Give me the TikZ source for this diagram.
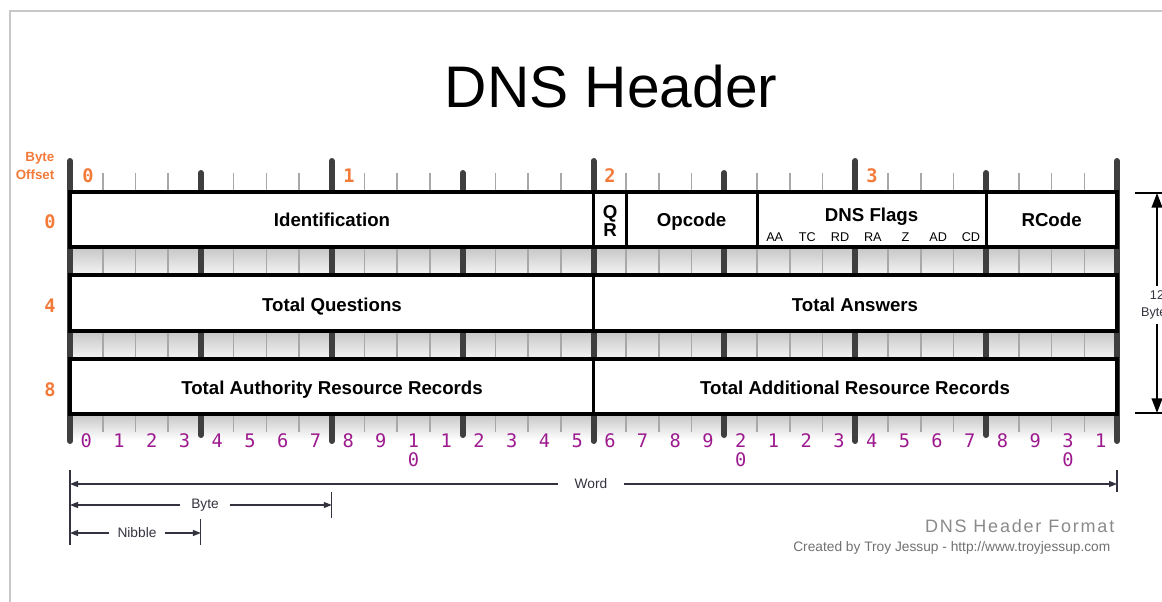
\documentclass[tikz,border=0pt]{standalone}
\usepackage{fontspec}
\setmainfont{Liberation Sans}
\setmonofont{DejaVu Sans Mono}
\usetikzlibrary{arrows.meta}
\definecolor{orange1}{HTML}{F47A3A}
\definecolor{purple1}{HTML}{9C1A8E}
\definecolor{gray1}{HTML}{3F3F3F}
\definecolor{gray2}{HTML}{A8A8A8}
\definecolor{gray3}{HTML}{C8C8C8}
\definecolor{gray4}{HTML}{8A8A8A}
\definecolor{gray5}{HTML}{707070}
\definecolor{gray6}{HTML}{333340}
\def\bw{32.72}

\begin{document}
\begin{tikzpicture}[x=0.75pt, y=-0.75pt, align=center,
  field/.style={draw=black, line width=2.4pt, fill=white},
  lbl/.style={font=\bfseries\fontsize{14}{14}\selectfont},
  flag/.style={font=\fontsize{9.5}{11}\selectfont, anchor=base},
  offs/.style={font=\ttfamily\bfseries\fontsize{14}{16}\selectfont, text=orange1},
  bitno/.style={font=\ttfamily\fontsize{14}{16}\selectfont, text=purple1},
  dimtext/.style={font=\fontsize{10.3}{12}\selectfont, text=gray6, inner xsep=8pt},
  dimline/.style={draw=gray6, line width=0.8pt},
  tickline/.style={draw=gray2, line width=1.2pt},
  bar/.style={draw=gray1, line width=4.5pt, line cap=round}]
\useasboundingbox (0,0) rectangle (1162,602);

% frame
\draw[gray3, line width=1pt] (10,602) -- (10,11) -- (1162,11);

\node (title) at (611,87) {\fontsize{44}{50}\selectfont DNS Header};

% shaded gaps between rows
\shade[top color=gray!45, bottom color=gray!8] (70,247) rectangle (1117,275);
\shade[top color=gray!45, bottom color=gray!8] (70,331) rectangle (1117,359);
\shade[top color=gray!45, bottom color=white] (70,414) rectangle (1117,440);

% bit ticks, nibble and byte bars
\foreach \i in {1,...,31}{
  \pgfmathsetmacro\xx{70+\i*\bw}
  \draw[tickline] (\xx,173) -- (\xx,432);
}
\foreach \i in {4,12,20,28}{
  \pgfmathsetmacro\xx{70+\i*\bw}
  \draw[bar] (\xx,173) -- (\xx,435);
}
\foreach \i in {0,8,16,24,32}{
  \pgfmathsetmacro\xx{70+\i*\bw}
  \draw[bar] (\xx,161) -- (\xx,441);
}

% row 0
\filldraw[field] (70,192) rectangle (593.5,247);
\filldraw[field] (593.5,192) rectangle (626.2,247);
\filldraw[field] (626.2,192) rectangle (757.1,247);
\filldraw[field] (757.1,192) rectangle (986.2,247);
\filldraw[field] (986.2,192) rectangle (1117,247);
% row 4
\filldraw[field] (70,275) rectangle (593.5,331);
\filldraw[field] (593.5,275) rectangle (1117,331);
% row 8
\filldraw[field] (70,359) rectangle (593.5,414);
\filldraw[field] (593.5,359) rectangle (1117,414);

\node[lbl, anchor=base] (ident) at (332,227) {Identification};
\node[lbl] (qr) at (610,221) {Q\\R};
\node[lbl, anchor=base] (opcode) at (691.6,227) {Opcode};
\node[lbl, anchor=base] (flags) at (871.6,221) {DNS Flags};
\node[lbl, anchor=base] (rcode) at (1051.6,227) {RCode};
\node[flag] (aa) at (774.7,241) {AA};
\node[flag] (tc) at (807.4,241) {TC};
\node[flag] (rd) at (840.1,241) {RD};
\node[flag] (ra) at (872.8,241) {RA};
\node[flag] (z) at (905.5,241) {Z};
\node[flag] (ad) at (938.2,241) {AD};
\node[flag] (cd) at (970.9,241) {CD};

\node[lbl, anchor=base] (questions) at (332,311) {Total Questions};
\node[lbl, anchor=base] (answers) at (855,311) {Total Answers};
\node[lbl, anchor=base] (authority) at (332,394) {Total Authority Resource Records};
\node[lbl, anchor=base] (additional) at (855,394) {Total Additional Resource Records};

% byte offsets
\node[font=\bfseries\fontsize{10}{13.5}\selectfont, text=orange1, align=right, anchor=east] (offset) at (59,166) {Byte\\Offset};
\node[offs] (row0) at (50,222) {0};
\node[offs] (row4) at (50,306) {4};
\node[offs] (row8) at (50,390) {8};
\node[offs] (byte0) at (88,176) {0};
\node[offs] (byte1) at (349,176) {1};
\node[offs] (byte2) at (610,176) {2};
\node[offs] (byte3) at (872,176) {3};

% bit numbers
\foreach \i in {0,...,31}{
  \pgfmathsetmacro\xx{70+(\i+0.5)*\bw}
  \pgfmathtruncatemacro\d{mod(\i,10)}
  \pgfmathtruncatemacro\t{\i/10}
  \ifnum\d=0 \ifnum\i>0
    \node[bitno] (bit\i) at (\xx,441) {\t};
    \node[bitno] (bit\i b) at (\xx,460) {0};
  \else
    \node[bitno] (bit\i) at (\xx,441) {0};
  \fi
  \else
    \node[bitno] (bit\i) at (\xx,441) {\d};
  \fi
}

% 12 bytes
\coordinate (dimtop) at (1157,193);
\coordinate (dimbot) at (1157,413);
\draw[dimline, draw=black] (1135,193) -- (1170,193);
\draw[dimline, draw=black] (1135,413) -- (1170,413);
\node[font=\fontsize{9.5}{12.5}\selectfont, text=gray6] (bytes) at (1157,305) {12\\Bytes};
\draw[black, line width=1.4pt, -{Triangle[length=11pt,width=8pt]}] (bytes.north) -- (dimtop);
\draw[black, line width=1.4pt, -{Triangle[length=11pt,width=8pt]}] (bytes.south) -- (dimbot);

% word, byte, nibble
\coordinate (wl) at (70,484);
\coordinate (wr) at (1117,484);
\coordinate (bl) at (70,505);
\coordinate (br) at (331.8,505);
\coordinate (nl) at (70,533);
\coordinate (nr) at (200.9,533);
\draw[dimline] (70,470) -- (70,545);
\draw[dimline] (1117,470) -- (1117,492);
\draw[dimline] (331.8,492) -- (331.8,518);
\draw[dimline] (200.9,519) -- (200.9,545);
\node[dimtext, inner xsep=12pt] (word) at (591,484) {Word};
\node[dimtext] (byte) at (205,505) {Byte};
\node[dimtext, inner xsep=6pt] (nibble) at (137,533) {Nibble};
\draw[dimline, -{Triangle[length=6pt,width=4.5pt]}] (word.west) -- (wl);
\draw[dimline, -{Triangle[length=6pt,width=4.5pt]}] (word.east) -- (wr);
\draw[dimline, -{Triangle[length=6pt,width=4.5pt]}] (byte.west) -- (bl);
\draw[dimline, -{Triangle[length=6pt,width=4.5pt]}] (byte.east) -- (br);
\draw[dimline, -{Triangle[length=6pt,width=4.5pt]}] (nibble.west) -- (nl);
\draw[dimline, -{Triangle[length=6pt,width=4.5pt]}] (nibble.east) -- (nr);

\node[anchor=base east, text=gray4, font=\fontsize{13.5}{16}\selectfont\addfontfeature{LetterSpace=10}] (format) at (1119,532) {DNS Header Format};
\node[anchor=base east, text=gray5, font=\fontsize{10.3}{12}\selectfont] (credit) at (1115,551) {Created by Troy Jessup - http://www.troyjessup.com};
\end{tikzpicture}
\end{document}
